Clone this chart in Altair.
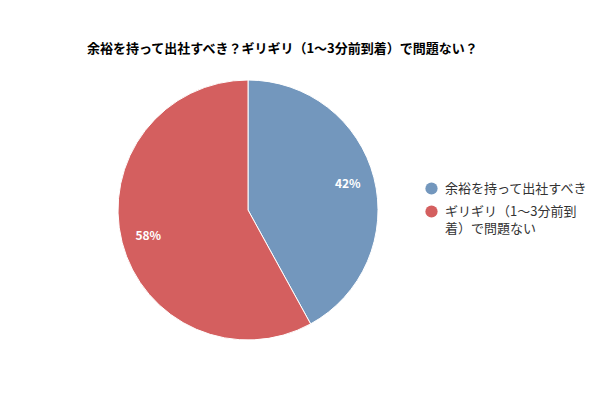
import altair as alt
import pandas as pd

categories = ["余裕を持って出社すべき", "ギリギリ（1〜3分前到着）で問題ない"]
values = [42, 58]
labels = ["42%", "58%"]
colors = ["#7397BD", "#D45F5F"]

df = pd.DataFrame({"cat": categories, "val": values, "lab": labels, "ord": [0, 1]})

FONT = "Noto Sans CJK JP"
cx, cy = 240, 202

base = alt.Chart(df).encode(
    theta=alt.Theta("val:Q", stack=True),
    order=alt.Order("ord:Q"),
)

pie = base.mark_arc(stroke="white", strokeWidth=1).encode(
    x=alt.value(cx), y=alt.value(cy), radius=alt.value(130),
    color=alt.Color("cat:N", sort=categories,
                    scale=alt.Scale(domain=categories, range=colors),
                    legend=alt.Legend(
                        title=None, orient="none", legendX=417, legendY=174,
                        symbolType="circle", symbolSize=150, symbolStrokeWidth=0,
                        labelFont=FONT, labelFontSize=13, labelColor="#333333",
                        labelLimit=300, rowPadding=9, labelOffset=7,
                        labelExpr="datum.label == 'ギリギリ（1〜3分前到着）で問題ない' ? ['ギリギリ（1〜3分前到', '着）で問題ない'] : datum.label",
                    )),
)

text = base.mark_text(font=FONT, fontSize=12, fontWeight="bold", color="white").encode(
    x=alt.value(cx), y=alt.value(cy), radius=alt.value(103),
    text="lab:N",
)

chart = (pie + text).properties(
    width=584, height=384,
    autosize=alt.AutoSizeParams(type="none"),
    padding=0,
    title=alt.TitleParams("余裕を持って出社すべき？ギリギリ（1〜3分前到着）で問題ない？",
                          anchor="start", dx=79, dy=52, font=FONT, fontSize=13,
                          fontWeight="bold", color="#000000"),
).configure(
    view=alt.ViewConfig(stroke=None),
    style={"guide-label": {"lineHeight": 17}},
)

chart.save("out.html", embed_options={"renderer": "svg", "actions": False})
